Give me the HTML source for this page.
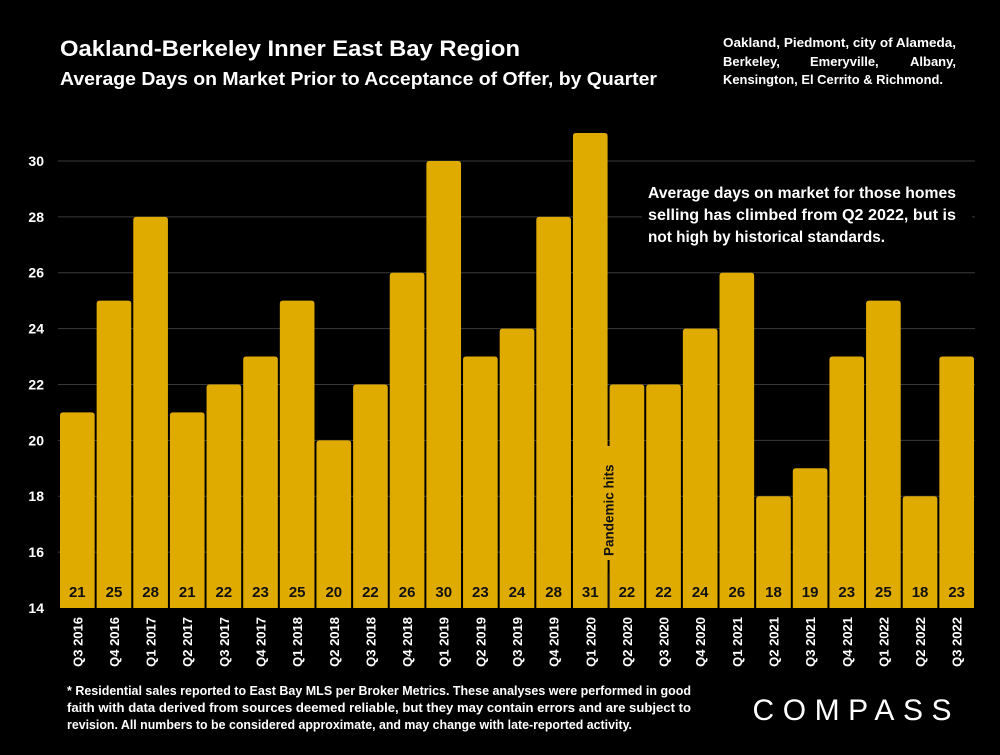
<!DOCTYPE html>
<html><head><meta charset="utf-8"><style>
body{margin:0;background:#000;width:1000px;height:750px;overflow:hidden;font-family:"Liberation Sans",sans-serif;color:#fff}
</style></head><body>
<svg width="1000" height="750" xmlns="http://www.w3.org/2000/svg">
<text x="60" y="56" font-size="22" font-weight="bold" fill="#fff" textLength="460" lengthAdjust="spacingAndGlyphs">Oakland-Berkeley Inner East Bay Region</text>
<text x="60" y="85" font-size="18.5" font-weight="bold" fill="#fff" textLength="597" lengthAdjust="spacingAndGlyphs">Average Days on Market Prior to Acceptance of Offer, by Quarter</text>
<g font-size="13" font-weight="bold" fill="#fff">
<text x="723" y="47" textLength="233" lengthAdjust="spacingAndGlyphs">Oakland, Piedmont, city of Alameda,</text>
<text x="723" y="66">Berkeley,</text><text x="810" y="66">Emeryville,</text><text x="956" y="66" text-anchor="end">Albany,</text>
<text x="723" y="84" textLength="220" lengthAdjust="spacingAndGlyphs">Kensington, El Cerrito &amp; Richmond.</text>
</g>
<g id="grid"></g><g id="bars"></g><g id="labels"></g>
<rect x="642" y="175" width="330" height="75" fill="#000"/>
<g font-size="16" font-weight="bold" fill="#fff">
<text x="648" y="198" textLength="308" lengthAdjust="spacingAndGlyphs">Average days on market for those homes</text>
<text x="648" y="220" textLength="308" lengthAdjust="spacingAndGlyphs">selling has climbed from Q2 2022, but is</text>
<text x="648" y="242" textLength="237" lengthAdjust="spacingAndGlyphs">not high by historical standards.</text>
</g>
<g font-size="12.5" font-weight="bold" fill="#fff">
<text x="67" y="695" textLength="624" lengthAdjust="spacingAndGlyphs">* Residential sales reported to East Bay MLS per Broker Metrics. These analyses were performed in good</text>
<text x="67" y="712" textLength="624" lengthAdjust="spacingAndGlyphs">faith with data derived from sources deemed reliable, but they may contain errors and are subject to</text>
<text x="67" y="729" textLength="565" lengthAdjust="spacingAndGlyphs">revision. All numbers to  be considered  approximate, and may change with late-reported activity.</text>
</g>
<text x="855" y="720" font-size="30" fill="#fff" text-anchor="middle" letter-spacing="6" textLength="205">COMPASS</text>
<script>
const categories=["Q3 2016","Q4 2016","Q1 2017","Q2 2017","Q3 2017","Q4 2017","Q1 2018","Q2 2018","Q3 2018","Q4 2018","Q1 2019","Q2 2019","Q3 2019","Q4 2019","Q1 2020","Q2 2020","Q3 2020","Q4 2020","Q1 2021","Q2 2021","Q3 2021","Q4 2021","Q1 2022","Q2 2022","Q3 2022"];
const values=[21,25,28,21,22,23,25,20,22,26,30,23,24,28,31,22,22,24,26,18,19,23,25,18,23];
const yTicks=[14,16,18,20,22,24,26,28,30];
const NS="http://www.w3.org/2000/svg";
const x0=59,x1=975,yMin=14,yMax=31,py0=608,pyTop=133;
const step=(x1-x0)/categories.length;
function y(v){return py0-(v-yMin)*(py0-pyTop)/(yMax-yMin);}
function xs(i){return x0+i*step;}
function mk(t,a,p){const e=document.createElementNS(NS,t);for(const k in a)e.setAttribute(k,a[k]);document.getElementById(p).appendChild(e);return e;}
yTicks.forEach(t=>{
 if(t>yMin){const l=mk('line',{x1:58,x2:975,y1:y(t),y2:y(t),stroke:'#3a3a3a','stroke-width':1},'grid');
 
 }
 const tx=mk('text',{x:44,y:y(t)+5,'text-anchor':'end','font-size':14,'font-weight':'bold',fill:'#fff'},'grid');
 tx.textContent=t;
 
 
});
values.forEach((v,i)=>{
 const bx=xs(i)+1,bw=step-2,by=y(v);
 const r=mk('path',{d:`M${bx},${py0}V${by+3}Q${bx},${by} ${bx+3},${by}H${bx+bw-3}Q${bx+bw},${by} ${bx+bw},${by+3}V${py0}Z`,fill:'#e0ab00'},'bars');
 
 
 const t=mk('text',{x:xs(i)+step/2,y:597,'text-anchor':'middle','font-size':15,'font-weight':'bold',fill:'#111'},'labels');
 t.textContent=v;
 
 
 const c=mk('text',{transform:`translate(${xs(i)+step/2+5},617) rotate(-90)`,'text-anchor':'end','font-size':13,'font-weight':'bold',fill:'#fff'},'labels');
 c.textContent=categories[i];
 
 
});
const px=xs(15);
const bg=mk('rect',{x:px-8,y:446,width:16,height:114,fill:'#e0ab00'},'labels');


const ml=mk('line',{x1:px,x2:px,y1:573,y2:608,stroke:'#111','stroke-width':2},'labels');


const pt=mk('text',{transform:`translate(${px+5},556) rotate(-90)`,'font-size':13.5,'font-weight':'bold',fill:'#111'},'labels');
pt.textContent='Pandemic hits';


</script>
</svg>
</body></html>
